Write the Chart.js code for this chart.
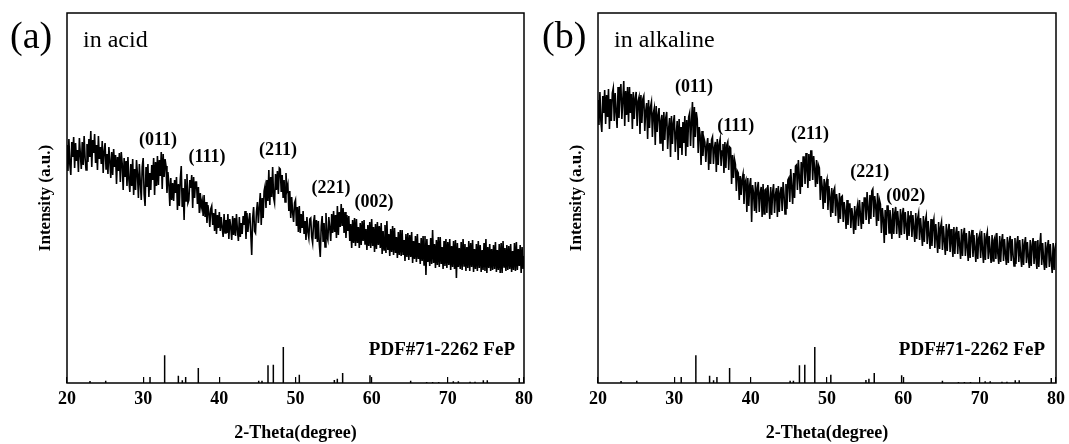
<!DOCTYPE html>
<html><head><meta charset="utf-8">
<script src="https://cdn.jsdelivr.net/npm/chart.js@4.4.0/dist/chart.umd.min.js"></script>
<style>
html,body{margin:0;padding:0;background:#fff;width:1069px;height:444px;overflow:hidden}
.p{position:absolute;top:0;height:444px}
#wa{left:0;width:534px}
#wb{left:534px;width:535px}
</style></head><body>
<div class="p" id="wa"><canvas id="ca" width="534" height="444"></canvas></div>
<div class="p" id="wb"><canvas id="cb" width="535" height="444"></canvas></div>
<script>
// 2-Theta sampling grid (degrees)
const angleStart = 20, angleStep = 0.125;
const xTicks = [20, 30, 40, 50, 60, 70, 80];

// Measured intensity (a.u.), panel (a) in acid, one value every 0.125 deg from 20 to 80 (one row per degree)
const acidIntensity = [
238,212,244,218,208,241,226,246,
215,240,222,233,211,245,229,214,
241,218,247,225,213,239,221,244,
226,252,216,243,230,249,220,238,
213,247,224,236,219,242,210,232,
240,214,229,209,236,222,205,231,
208,234,216,228,199,226,212,230,
201,231,219,193,225,206,222,197,
226,203,191,219,197,224,188,214,
193,223,209,185,219,200,183,216,
225,189,177,216,196,219,186,210,
193,218,203,225,188,221,197,227,
198,223,207,231,194,229,206,224,
217,190,211,199,177,205,183,200,
182,203,190,206,173,199,177,204,
217,176,195,163,204,182,209,180,
183,203,195,208,175,206,185,201,
201,179,196,170,190,176,182,167,
188,166,181,160,178,170,156,174,
177,158,170,152,174,149,168,155,
171,152,166,155,146,169,150,163,
150,169,144,164,156,143,167,148,
165,147,169,153,142,166,146,160,
149,167,158,172,144,170,151,163,
170,150,128,165,176,152,150,171,
181,160,176,190,158,185,165,192,
197,175,203,182,213,178,206,186,
216,185,180,209,193,212,189,215,
214,191,208,185,203,181,210,193,
198,172,192,165,186,170,161,180,
183,157,176,151,177,150,169,155,
172,149,162,143,166,151,145,164,
165,146,140,161,168,144,163,141,
162,139,126,157,167,141,160,136,
170,147,143,166,155,142,169,150,
172,151,168,145,177,148,171,156,
179,157,175,150,171,145,168,152,
167,142,159,135,163,140,165,137,
164,140,156,135,160,138,162,142,
163,139,154,133,158,137,161,135,
164,137,156,131,159,134,161,138,
157,135,160,129,152,133,158,130,
162,133,149,127,154,131,157,128,
155,130,146,125,151,128,153,127,
153,128,143,122,149,126,150,123,
148,126,151,120,142,124,147,121,
149,124,140,119,145,122,147,118,
147,108,144,121,138,117,145,119,
153,120,139,115,143,118,146,116,
146,119,136,114,142,117,144,115,
141,118,144,113,137,116,142,114,
143,105,140,116,135,114,141,113,
144,117,139,112,136,115,142,112,
140,116,143,111,134,114,139,112,
142,115,138,111,133,113,140,112,
144,110,136,115,139,112,134,113,
138,114,141,111,133,113,139,110,
140,110,142,116,135,112,138,113,
137,114,139,111,132,113,140,112,
141,113,134,117,138,110,136,114,
127
];

// Measured intensity (a.u.), panel (b) in alkaline
const alkalineIntensity = [
283,258,291,262,251,287,270,293,
259,288,266,294,254,284,262,290,
295,262,290,271,255,296,265,289,
299,264,283,302,257,292,268,296,
261,296,270,289,254,291,264,285,
291,257,282,286,249,288,260,284,
287,252,272,280,244,283,255,276,
281,246,270,275,238,277,251,268,
275,240,262,268,232,271,243,265,
271,234,254,265,226,267,239,260,
268,231,249,262,223,264,235,256,
228,261,240,267,227,263,236,266,
270,237,262,281,235,276,246,271,
264,230,256,248,218,252,227,245,
241,221,238,245,213,240,219,243,
246,219,235,241,211,244,218,239,
244,217,232,239,210,241,215,238,
241,213,236,235,199,228,205,224,
219,192,212,210,183,207,188,204,
209,179,200,203,171,205,177,198,
205,161,198,190,172,201,170,195,
201,171,190,196,166,199,169,193,
194,170,198,185,164,196,168,191,
199,170,188,195,166,197,171,190,
196,172,201,188,169,199,174,203,
205,181,214,196,179,210,185,217,
218,193,223,206,189,221,196,226,
226,199,230,214,195,229,202,232,
232,203,227,215,196,223,199,218,
215,183,207,196,174,204,180,200,
204,173,197,186,166,195,170,192,
195,167,189,180,160,190,164,186,
187,161,181,172,154,183,158,179,
179,155,175,166,149,177,153,172,
178,157,183,168,154,181,159,185,
185,163,191,175,159,188,164,192,
194,166,187,178,157,190,162,183,
179,150,175,164,140,173,148,177,
177,150,173,162,144,175,149,170,
176,149,172,160,145,174,148,169,
175,149,171,158,143,172,147,167,
172,146,168,155,141,170,144,165,
170,143,165,152,137,167,141,162,
167,139,162,148,134,164,137,159,
164,135,159,145,130,161,134,156,
161,133,157,142,128,159,132,153,
159,131,154,140,126,156,129,150,
156,129,152,138,124,154,127,149,
155,127,150,136,122,152,125,147,
153,126,148,134,121,150,124,145,
149,125,152,133,120,150,123,146,
151,124,147,131,120,148,122,143,
146,124,150,130,119,147,121,142,
149,122,144,129,118,146,120,141,
147,122,144,128,117,145,119,140,
147,121,143,127,116,144,118,139,
146,120,141,126,115,143,117,138,
145,119,142,125,114,143,116,137,
150,118,140,124,113,141,115,136,
143,116,139,122,110,140,113,135,
140
];

// Reference pattern PDF#71-2262 FeP: line positions (deg) and relative heights
const pdfAngle  = [23.02,25.08,30.90,32.82,34.62,35.14,35.58,37.24,45.17,45.60,46.39,47.09,48.40,50.50,55.10,55.49,56.19,59.78,65.12,67.22,68.00,68.80,70.72,71.38,72.92,73.57,74.66,75.18,79.38];
const pdfHeight = [2,2.3,6,27.7,7.3,2.7,6,15,2.3,2.3,17.7,18.3,36,8.3,3,4.3,10,7.7,2.3,1,1,1,1.7,1.7,1.3,1.3,2.7,2.7,5];

// Peak labels
const peakNames = ['(011)', '(111)', '(211)', '(221)', '(002)'];
const acidPeakAt = [31.95, 38.38, 47.7, 54.66, 60.3];
const acidPeakLevel = [243, 226, 233, 195, 181];
const alkPeakAt = [32.58, 38.04, 47.78, 55.59, 60.31];
const alkPeakLevel = [296, 257, 249, 211, 187];

const SERIF = '"Liberation Serif","Times New Roman",Times,serif';

function toPoints(values) {
  return values.map((v, i) => ({ x: angleStart + i * angleStep, y: v }));
}
function stickPoints() {
  const d = [];
  pdfAngle.forEach((a, i) => { d.push({ x: a, y: 0 }, { x: a, y: pdfHeight[i] }, { x: a, y: null }); });
  return d;
}

const framePlugin = {
  id: 'frame',
  afterDraw(chart) {
    const { ctx, chartArea: a } = chart;
    ctx.save();
    ctx.strokeStyle = '#000';
    ctx.lineWidth = 1.5;
    ctx.strokeRect(a.left, a.top, a.right - a.left, a.bottom - a.top);
    ctx.restore();
  }
};

const notesPlugin = {
  id: 'notes',
  afterDraw(chart, args, o) {
    const { ctx, chartArea: a, scales: { x, y } } = chart;
    ctx.save();
    ctx.fillStyle = '#000';
    ctx.textAlign = 'left';
    ctx.textBaseline = 'alphabetic';
    ctx.font = '38px ' + SERIF;
    ctx.fillText(o.tag, a.left + o.tagDx, 48);
    ctx.font = '24px ' + SERIF;
    ctx.fillText(o.title, a.left + 16, 47);
    ctx.font = 'bold 18px ' + SERIF;
    ctx.textAlign = 'center';
    ctx.textBaseline = 'middle';
    peakNames.forEach((n, i) => {
      ctx.fillText(n, x.getPixelForValue(o.peakAt[i]), y.getPixelForValue(o.peakLevel[i]));
    });
    ctx.font = 'bold 19px ' + SERIF;
    ctx.textAlign = 'right';
    ctx.fillText('PDF#71-2262 FeP', x.getPixelForValue(o.pdfAt), y.getPixelForValue(33));
    ctx.restore();
  }
};

function makePanel(id, values, yAxisWidth, padRight, titleX, notes) {
  new Chart(document.getElementById(id), {
    type: 'line',
    data: {
      datasets: [
        { data: toPoints(values), borderColor: '#000', borderWidth: 1.6, pointRadius: 0, tension: 0 },
        { data: stickPoints(), borderColor: '#000', borderWidth: 1.5, pointRadius: 0, spanGaps: false, tension: 0 }
      ]
    },
    options: {
      responsive: false,
      animation: false,
      devicePixelRatio: 1,
      layout: { padding: { top: 13, right: padRight, left: 0, bottom: 0 } },
      plugins: { legend: { display: false }, tooltip: { enabled: false }, notes: notes },
      scales: {
        x: {
          type: 'linear', min: 20, max: 80,
          afterBuildTicks: s => { s.ticks = xTicks.map(v => ({ value: v })); },
          ticks: { color: '#000', padding: 12, font: { family: SERIF, size: 18, weight: 'bold' }, maxRotation: 0 },
          grid: { display: true, drawOnChartArea: false, drawTicks: true, tickLength: -6, color: '#000', lineWidth: 1.2 },
          border: { display: false },
          title: { display: true, text: '2-Theta(degree)', color: '#000', padding: { top: 0, bottom: 0 }, font: { family: SERIF, size: 18, weight: 'bold' } },
          afterFit: s => { s.height = 61; s.paddingLeft = 0; s.paddingRight = 0; }
        },
        y: {
          type: 'linear', min: 0, max: 370,
          ticks: { display: false },
          grid: { display: false },
          border: { display: false },
          title: { display: true, text: 'Intensity (a.u.)', color: '#000', padding: { top: titleX - 10.2, bottom: 0 }, font: { family: SERIF, size: 17, weight: 'bold' } },
          afterFit: s => { s.width = yAxisWidth; }
        }
      }
    },
    plugins: [framePlugin, notesPlugin]
  });
}

makePanel('ca', acidIntensity, 67, 10, 46,
  { tag: '(a)', tagDx: -57, title: 'in acid', peakAt: acidPeakAt, peakLevel: acidPeakLevel, pdfAt: 78.82 });
makePanel('cb', alkalineIntensity, 64, 13, 43,
  { tag: '(b)', tagDx: -56, title: 'in alkaline', peakAt: alkPeakAt, peakLevel: alkPeakLevel, pdfAt: 78.56 });
</script>
</body></html>
